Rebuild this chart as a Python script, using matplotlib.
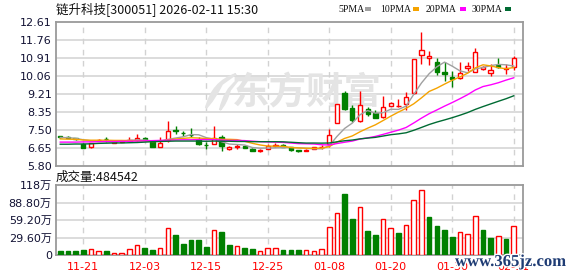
import numpy as np
import matplotlib
matplotlib.use('Agg')
import matplotlib.pyplot as plt
from matplotlib.patches import Rectangle, PathPatch
from matplotlib.path import Path
import matplotlib.patheffects as pe

# ---------------- data ----------------
dates = ['11-18', '11-19', '11-20', '11-21', '11-24', '11-25', '11-26', '11-27', '11-28',
         '12-01', '12-02', '12-03', '12-04', '12-05', '12-08', '12-09', '12-10', '12-11',
         '12-12', '12-15', '12-16', '12-17', '12-18', '12-19', '12-22', '12-23', '12-24',
         '12-25', '12-26', '12-29', '12-30', '12-31', '01-05', '01-06', '01-07', '01-08',
         '01-09', '01-12', '01-13', '01-14', '01-15', '01-16', '01-19', '01-20', '01-21',
         '01-22', '01-23', '01-26', '01-27', '01-28', '01-29', '01-30', '02-02', '02-03',
         '02-04', '02-05', '02-06', '02-09', '02-10', '02-11']

opens = [7.22, 7.19, 7.12, 6.83, 6.68, 7.01, 7.08, 6.91, 6.95, 6.97,
         7.02, 7.14, 6.92, 6.72, 7.02, 7.50, 7.37, 7.27, 7.03, 6.80,
         6.85, 7.19, 6.60, 6.72, 6.76, 6.62, 6.52, 6.62, 6.74, 6.80,
         6.70, 6.57, 6.51, 6.62, 6.69, 6.84, 7.85, 9.27, 8.53, 7.94,
         8.50, 8.29, 8.10, 8.64, 8.62, 8.73, 9.24, 11.05, 10.89, 10.70,
         10.25, 10.02, 9.95, 10.42, 10.26, 10.37, 10.18, 10.58, 10.40, 10.50]
highs = [7.23, 7.21, 7.14, 6.90, 6.90, 7.09, 7.19, 6.97, 7.00, 7.16,
         7.32, 7.17, 6.93, 7.19, 7.93, 7.69, 7.45, 7.61, 7.17, 6.92,
         7.69, 7.25, 6.76, 6.83, 6.77, 6.64, 6.59, 6.83, 6.90, 6.82,
         6.72, 6.58, 6.60, 6.72, 6.80, 7.55, 8.75, 9.36, 8.68, 9.36,
         8.60, 8.45, 9.11, 8.82, 8.97, 9.31, 10.87, 12.12, 11.24, 10.89,
         10.70, 10.29, 10.70, 10.70, 11.40, 10.55, 10.61, 10.89, 10.61, 11.02]
lows = [7.12, 7.12, 7.05, 6.66, 6.67, 7.00, 6.95, 6.90, 6.94, 6.95,
        7.00, 7.04, 6.70, 6.70, 6.95, 7.31, 7.22, 7.17, 6.78, 6.62,
        6.84, 6.50, 6.55, 6.59, 6.64, 6.51, 6.48, 6.60, 6.72, 6.70,
        6.53, 6.44, 6.50, 6.61, 6.59, 6.72, 7.83, 8.47, 7.89, 7.90,
        8.18, 8.06, 8.08, 8.62, 8.57, 8.45, 9.22, 10.61, 10.58, 10.10,
        9.83, 9.55, 9.90, 10.29, 10.24, 10.33, 10.07, 10.42, 10.14, 10.33]
closes = [7.19, 7.14, 7.08, 6.67, 6.87, 7.05, 7.06, 6.96, 6.98, 7.02,
          7.14, 7.06, 6.72, 6.90, 7.46, 7.47, 7.35, 7.25, 6.86, 6.78,
          7.12, 6.73, 6.70, 6.75, 6.66, 6.53, 6.57, 6.73, 6.80, 6.72,
          6.56, 6.50, 6.58, 6.71, 6.72, 7.26, 8.71, 8.48, 7.98, 8.68,
          8.27, 8.08, 8.60, 8.79, 8.64, 9.05, 10.86, 11.29, 10.99, 10.26,
          10.17, 9.90, 10.18, 10.53, 11.18, 10.50, 10.34, 10.47, 10.44, 10.89]

# volume in 万 (10k), and up/down day flag (1 = up / red, 0 = down / green)
volumes = [6.8, 6.8, 6.8, 9.1, 10.3, 6.3, 6.8, 3.4, 3.4, 9.7,
           16.5, 12.0, 9.1, 11.4, 45.6, 34.2, 18.8, 26.2, 26.2, 13.7,
           42.8, 39.3, 17.1, 14.8, 12.0, 10.3, 6.8, 12.0, 12.0, 8.6,
           8.6, 8.6, 8.0, 6.3, 10.3, 47.3, 71.8, 102.6, 61.6, 81.5,
           41.0, 34.2, 61.6, 46.2, 37.6, 51.3, 92.3, 109.4, 65.0, 49.6,
           41.6, 30.8, 39.3, 35.9, 66.1, 42.8, 29.1, 31.9, 27.4, 48.45]
vol_up = [0, 0, 0, 0, 1, 1, 0, 1, 1, 1,
          1, 0, 0, 1, 1, 0, 0, 0, 0, 0,
          1, 0, 0, 1, 0, 0, 1, 1, 1, 0,
          0, 0, 1, 1, 1, 1, 1, 0, 0, 1,
          0, 0, 1, 1, 0, 1, 1, 1, 0, 0,
          0, 0, 1, 1, 1, 0, 0, 1, 0, 1]

# moving-average values at the left edge (before enough closes exist)
ma5_head = [7.15, 7.14, 7.11, 7.04]
ma10_head = [7.08, 7.07, 7.06, 7.03, 7.02, 7.02, 7.02, 7.01, 7.01]
ma20_head = [6.93, 6.93, 6.93, 6.94, 6.94, 6.95, 6.96, 6.96, 6.97, 6.97,
             6.98, 6.99, 7.00, 7.01, 7.02, 7.03, 7.04, 7.04, 7.05]
ma30_head = [6.83, 6.83, 6.84, 6.84, 6.85, 6.87, 6.88, 6.89, 6.89, 6.90,
             6.91, 6.93, 6.95, 6.96, 6.97, 6.98, 6.98, 6.98, 6.98, 6.97,
             6.98, 6.97, 6.97, 6.96, 6.96, 6.95, 6.95, 6.95, 6.95]

price_ticks = [5.80, 6.65, 7.50, 8.35, 9.21, 10.06, 10.91, 11.76, 12.61]
price_labels = ['5.80', '6.65', '7.50', '8.35', '9.21', '10.06', '10.91', '11.76', '12.61']
vol_ticks = [0, 29.6, 59.2, 88.8, 118.4]
vol_labels = ['0', '29.60万', '59.20万', '88.80万', '118万']

title = '链升科技[300051] 2026-02-11 15:30'
vol_title = '成交量:484542'
ma_names = ['5PMA', '10PMA', '20PMA', '30PMA']

# ---------------- styling ----------------
RED = '#ff0000'
GREEN = '#008000'
MA_COLORS = ['#a0a0a0', '#f5a300', '#ff00ff', '#006b33']
GRID = '#d2d2d2'
FRAME = '#9a9a9a'
WM = '#e4e4e4'
CJK = ['Noto Sans CJK SC', 'DejaVu Sans']
SANS = ['DejaVu Sans', 'Noto Sans CJK SC']

W, H = 578, 276
fig = plt.figure(figsize=(W / 100, H / 100), dpi=100)
fig.patch.set_facecolor('white')

L, R = 56, 522.7
ax1 = fig.add_axes([L / W, 1 - 166 / H, (R - L) / W, 144 / H])
ax2 = fig.add_axes([L / W, 1 - 255 / H, (R - L) / W, 70 / H])

n = len(closes)
x = np.arange(n)
closes_a = np.array(closes)


def moving_avg(period, head):
    out = np.empty(n)
    out[:period - 1] = head
    for i in range(period - 1, n):
        out[i] = closes_a[i - period + 1:i + 1].mean()
    return out


mas = [moving_avg(5, ma5_head), moving_avg(10, ma10_head),
       moving_avg(20, ma20_head), moving_avg(30, ma30_head)]

tick_idx = list(range(3, n, 8))

for ax in (ax1, ax2):
    ax.set_xlim(-0.55, 60.17)
    for s in ax.spines.values():
        s.set_color(FRAME)
        s.set_linewidth(1.3)
    ax.tick_params(length=0, pad=3)
    for t in tick_idx:
        ax.axvline(t, color=GRID, lw=1.0, ls=(0, (4, 4)), zorder=0.5)
    ax.set_axisbelow(True)

# --- price panel
ax1.set_ylim(5.80, 12.61)
ax1.set_yticks(price_ticks)
ax1.set_yticklabels(price_labels, family=SANS, fontsize=8, color='#111133')
ax1.set_xticks([])
for yv in price_ticks[1:-1]:
    ax1.axhline(yv, color=GRID, lw=1.1, zorder=0.5)

# --- watermark (logo swoosh + name) behind the data, in figure pixels
to_ax = fig.transFigure + ax1.transAxes.inverted()


def ax_pts(pts):
    return [tuple(to_ax.transform((px / W, 1 - py / H))) for px, py in pts]


ax1.text(*ax_pts([(307, 93)])[0], '东方财富', transform=ax1.transAxes, fontsize=27,
         fontweight='bold', family=CJK, color=WM, ha='center', va='center', zorder=0.8)
swooshes = [
    [(236, 74), (212, 82), (206, 108), (214, 100), (222, 84), (236, 74)],
    [(238, 80), (224, 90), (220, 110), (226, 104), (230, 90), (238, 80)],
]
for s in swooshes:
    codes = [Path.MOVETO, Path.CURVE3, Path.CURVE3, Path.CURVE3, Path.CURVE3, Path.CLOSEPOLY]
    ax1.add_patch(PathPatch(Path(ax_pts(s), codes), transform=ax1.transAxes,
                            facecolor=WM, edgecolor=WM, lw=1.5, zorder=0.8))

bw = 0.56
for i in range(n):
    o, h, l, c = opens[i], highs[i], lows[i], closes[i]
    up = c >= o
    col = RED if up else GREEN
    ax1.vlines(x[i], l, h, color=col, lw=1.0, zorder=2)
    bottom = min(o, c)
    height = max(abs(c - o), 0.012)
    ax1.add_patch(Rectangle((x[i] - bw / 2, bottom), bw, height,
                            facecolor='white' if up else GREEN,
                            edgecolor=col, lw=1.0, zorder=3))

for m, colr in zip(mas, MA_COLORS):
    ax1.plot(x, m, color=colr, lw=1.0, zorder=4)

# --- volume panel
ax2.set_ylim(0, 118.4)
ax2.set_yticks(vol_ticks)
ax2.set_yticklabels(vol_labels, family=SANS, fontsize=8, color='#111133')
for yv in vol_ticks[1:-1]:
    ax2.axhline(yv, color=GRID, lw=1.1, zorder=0.5)
vw = 0.6
for i in range(n):
    if vol_up[i]:
        ax2.add_patch(Rectangle((x[i] - vw / 2, 0), vw, volumes[i],
                                facecolor='white', edgecolor=RED, lw=1.0, zorder=3))
    else:
        ax2.add_patch(Rectangle((x[i] - vw / 2, 0), vw, volumes[i],
                                facecolor=GREEN, edgecolor=GREEN, lw=1.0, zorder=3))
ax2.set_xticks(tick_idx)
ax2.set_xticklabels([dates[t] for t in tick_idx], family=SANS, fontsize=8, color=RED)
ax2.tick_params(axis='x', pad=5)

# --- header texts
fig.text(56 / W, 1 - 9 / H, title, family=CJK, fontsize=9, color='#111111',
         ha='left', va='center')
fig.text(56 / W, 1 - 177 / H, vol_title, family=CJK, fontsize=9, color='#111111',
         ha='left', va='center')

leg_text_x = [338, 380, 426, 472]
leg_box_x = [365, 413, 460, 505]
for name, tx, bx, colr in zip(ma_names, leg_text_x, leg_box_x, MA_COLORS):
    fig.text(tx / W, 1 - 9 / H, name, family=['Liberation Serif'], fontsize=7,
             color='#111111', ha='left', va='center')
    fig.patches.append(Rectangle((bx / W, 1 - 10.5 / H), 6 / W, 3.5 / H,
                                 transform=fig.transFigure, facecolor=colr,
                                 edgecolor='none'))

# --- bottom-right site watermark (overlaps the last date labels, as in the source)
fig.text(455 / W, 1 - 262 / H, 'www.365jz.com', family=['Liberation Serif'],
         fontsize=12, fontweight='bold', color='#1f3c74', ha='left', va='center',
         path_effects=[pe.withStroke(linewidth=2, foreground='white')], zorder=10)

fig.savefig('out.png', dpi=100, facecolor='white')
